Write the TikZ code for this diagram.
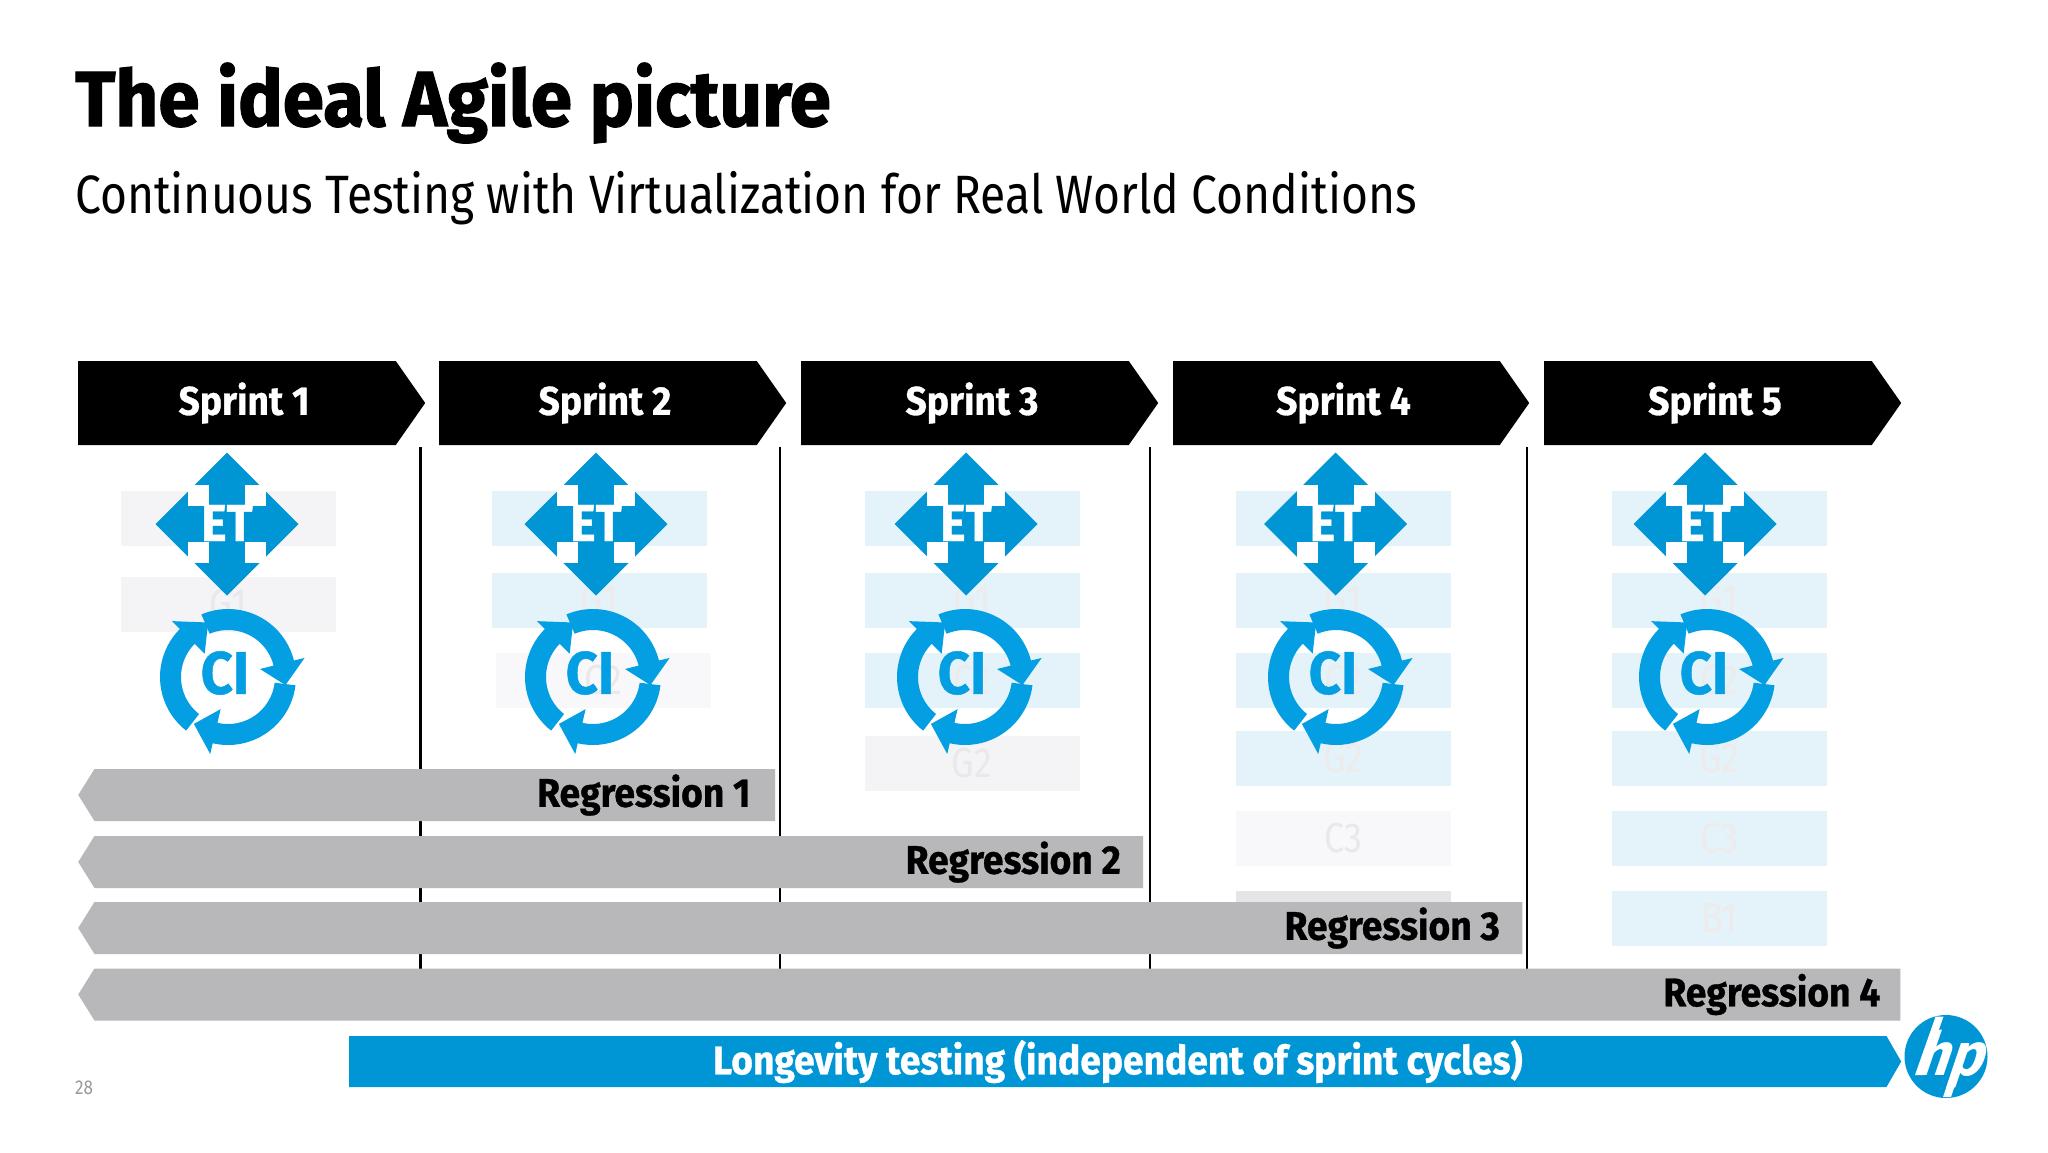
\documentclass[tikz,border=0pt]{standalone}
\usepackage{fontspec}
\usetikzlibrary{shapes.symbols}
\setmainfont{Fira Sans}
\newfontfamily\hpfont{Fira Sans}[FakeStretch=0.856]
\newfontfamily\hpheavy{Fira Sans}[FakeStretch=0.93,BoldFeatures={FakeBold=0.8}]
\newfontfamily\hptitle{Fira Sans}[FakeStretch=0.955,BoldFeatures={FakeBold=1.5}]
\newfontfamily\hplogo{Fira Sans}[FakeStretch=0.95,FakeSlant=0.34]
\definecolor{hpblue}{HTML}{0096D6}
\definecolor{ciblue}{HTML}{049FE3}
\definecolor{barGray}{HTML}{B8B7BA}
\definecolor{lightblue}{HTML}{E4F2F9}
\definecolor{lightgray}{HTML}{F4F3F5}
\definecolor{paleGray}{HTML}{F8F7F9}
\definecolor{midGray}{HTML}{E5E4E6}
\definecolor{faint}{HTML}{EDEBEC}
\definecolor{faintgray}{HTML}{E9E9EB}

\newcommand{\sprinttext}[1]{\hspace*{14pt}Sprint #1}
\newcommand{\eticon}[3]{
\begin{scope}[shift={(#1,#2)}]
\fill[hpblue] (-71.5,0)--(0,-71.5)--(71.5,0)--(0,71.5)--cycle;
\fill[white] (-39,-39) rectangle (-18,-18);
\fill[white] (18,-39) rectangle (39,-18);
\fill[white] (-39,18) rectangle (-18,39);
\fill[white] (18,18) rectangle (39,39);
\end{scope}
\node[iconlabel,text=white] (et#3) at (#1,#2-1) {ET};
}
\newcommand{\ciicon}[3]{
\begin{scope}[shift={(#1,#2)},yscale=-1]
\foreach \a/\b/\c in {113/14/-8,-7/-103/-126,232/135/110}
  \fill[ciblue] (\a:68) arc[start angle=\a,end angle=\b,radius=68] -- (\b:79) -- (\c:58) -- (\b:33) -- (\b:47) arc[start angle=\b,end angle=\a,radius=47] -- cycle;
\end{scope}
\node[iconlabel,text=ciblue,font=\hpheavy\bfseries\fontsize{60}{60}\selectfont] (ci#3) at (#1-3,#2-4) {CI};
}

\begin{document}
\begin{tikzpicture}[x=1pt,y=-1pt]

\tikzstyle{sprint} = [shape=signal,signal to=east,signal from=nowhere,signal pointer angle=110,fill=black,text=white,font=\hpheavy\bfseries\fontsize{40}{40}\selectfont,minimum height=84,inner sep=0,anchor=west]
\tikzstyle{regression} = [shape=signal,signal to=west,signal from=nowhere,signal pointer angle=116,fill=barGray,text=black,font=\hpheavy\bfseries\fontsize{40}{40}\selectfont,minimum height=52,inner sep=0,anchor=west,align=flush right]
\tikzstyle{longevity} = [shape=signal,signal to=east,signal from=nowhere,signal pointer angle=120,fill=hpblue,text=white,font=\hpheavy\bfseries\fontsize{40}{40}\selectfont,minimum height=51,inner sep=0,anchor=west]
\tikzstyle{iconlabel} = [font=\hpheavy\bfseries\fontsize{52}{52}\selectfont,inner sep=0]
\tikzstyle{blue-b} = [fill=lightblue,text=faint,font=\hpfont\fontsize{42}{42}\selectfont,minimum width=215,minimum height=55,inner sep=0]
\tikzstyle{gray-b} = [blue-b,fill=lightgray,text=faintgray]
\tikzstyle{divider} = [line width=2.6]

\path[use as bounding box,fill=white] (0,0) rectangle (2048,1152);

\node[anchor=base west,inner sep=0,font=\hptitle\bfseries\fontsize{78}{78}\selectfont] (title) at (75,126) {The ideal Agile picture};
\node[anchor=base west,inner sep=0,font=\hpfont\fontsize{54}{54}\selectfont] (subtitle) at (75,213) {Continuous Testing with Virtualization for Real World Conditions};

% backlog rows
\node[gray-b] (b11) at (228.5,518) {};
\node[gray-b] (b12) at (228.5,604) {G1};

\node[blue-b] (b21) at (599,518) {};
\node[blue-b] (b22) at (599,600) {G1};
\node[gray-b,fill=paleGray] (b23) at (603.5,680) {C2};

\foreach \x/\n in {972/3,1343.5/4,1719.5/5} {
\node[blue-b] (b\n1) at (\x,518) {};
\node[blue-b] (b\n2) at (\x,600) {G1};
\node[blue-b] (b\n3) at (\x,680) {C2};
}
\node[gray-b] (b34) at (972,763) {G2};
\node[blue-b] (b44) at (1343.5,758) {G2};
\node[gray-b,fill=paleGray] (b45) at (1343.5,838.5) {C3};
\node[gray-b,fill=midGray] (b46) at (1343.5,918.5) {};
\node[blue-b] (b54) at (1719.5,758) {G2};
\node[blue-b] (b55) at (1719.5,838.5) {C3};
\node[blue-b] (b56) at (1719.5,918.5) {B1};

% sprint headers
\node[sprint,minimum width=347] (sprint1) at (78,403) {\sprinttext{1}};
\node[sprint,minimum width=347] (sprint2) at (439,403) {\sprinttext{2}};
\node[sprint,minimum width=357] (sprint3) at (801,403) {\sprinttext{3}};
\node[sprint,minimum width=356] (sprint4) at (1173,403) {\sprinttext{4}};
\node[sprint,minimum width=357] (sprint5) at (1544,403) {\sprinttext{5}};

\foreach \x in {420.5,780,1150,1527} {
\draw[divider] (\x,447) -- (\x,969);
}

\foreach \x/\n in {227/1,596/2,966/3,1335.5/4,1705/5} {
\eticon{\x}{524}{\n}
}
\foreach \x/\n in {228/1,593/2,965/3,1336/4,1707/5} {
\ciicon{\x}{677}{\n}
}

% regression bars
\node[regression,minimum width=697,text width=631] (reg1) at (78,795) {Regression 1};
\node[regression,minimum width=1065,text width=1004] (reg2) at (78,862) {Regression 2};
\node[regression,minimum width=1444,text width=1383] (reg3) at (78,928) {Regression 3};
\node[regression,minimum width=1822,text width=1766] (reg4) at (78,994.5) {Regression 4};

\node[longevity,minimum width=1552] (longevity) at (349,1061.5) {Longevity testing (independent of sprint cycles)};

\node[anchor=center,inner sep=0,text=black!40,font=\hpfont\fontsize{20}{20}\selectfont] (pagenum) at (84,1088) {28};

% logo
\node[circle,fill=hpblue,minimum size=83,inner sep=0] (logo) at (1946,1056.5) {};
\fill[white] (1915,1075) -- (1935.5,1016.7) -- (1943.5,1016.5) -- (1923,1075) -- cycle;
\fill[white] (1943,1097) -- (1961,1043) -- (1969,1043) -- (1951,1097) -- cycle;
\node[anchor=base west,text=white,inner sep=0,font=\hplogo\bfseries\fontsize{60}{60}\selectfont] (hp) at (1914,1075) {hp};

\end{tikzpicture}
\end{document}
